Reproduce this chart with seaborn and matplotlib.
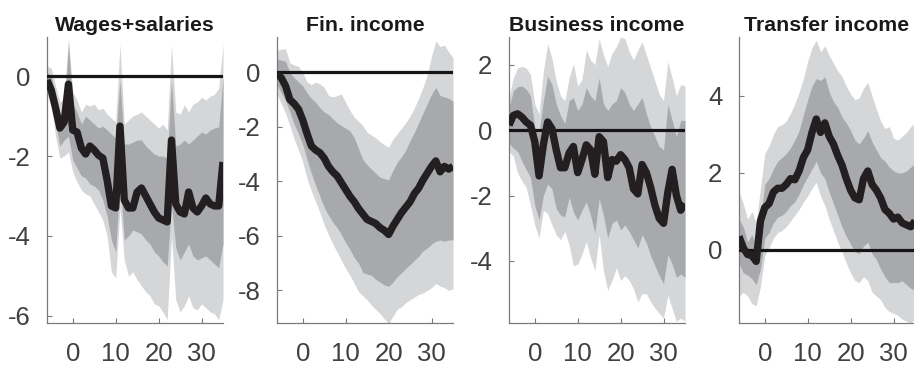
import matplotlib
matplotlib.use("Agg")
import matplotlib.pyplot as plt
import pandas as pd
import seaborn as sns

# Horizon (months relative to the shock)
horizon = list(range(-6, 36))

titles = ["Wages+salaries", "Fin. income", "Business income", "Transfer income"]

# Wages + salaries: point response and 68% / 90% bands
wage_mid = [-0.10, -0.35, -0.80, -1.30, -1.15, -0.20, -1.35, -1.40, -1.80, -1.95, -1.75, -1.85, -1.98, -2.05,
            -2.60, -3.25, -3.30, -1.25, -3.10, -3.30, -3.30, -2.90, -2.80, -3.00, -3.20, -3.40, -3.55, -3.60,
            -3.65, -1.60, -3.20, -3.40, -3.45, -2.90, -3.30, -3.40, -3.25, -3.05, -3.20, -3.25, -3.25, -2.15]
wage_hi90 = [0.25, 0.20, -0.25, -0.65, -0.55, 0.95, -0.40, -0.60, -0.90, -0.70, -0.75, -0.70, -0.85, -0.80,
             -0.95, -1.05, -1.15, 0.80, -1.20, -1.10, -1.00, -0.95, -0.90, -1.00, -1.10, -1.20, -1.30, -1.20,
             -1.35, 0.78, -0.90, -0.95, -0.72, -0.90, -0.70, -0.65, -0.53, -0.60, -0.50, -0.46, -0.30, 0.80]
wage_hi68 = [0.10, 0.00, -0.50, -0.95, -0.80, 0.80, -0.70, -0.90, -1.20, -1.00, -1.10, -1.20, -1.30, -1.25,
             -1.35, -1.45, -1.55, -0.10, -1.70, -1.70, -1.65, -1.60, -1.60, -1.75, -1.85, -1.95, -2.00, -2.00,
             -2.05, -0.10, -1.75, -1.70, -1.60, -1.70, -1.60, -1.50, -1.40, -1.45, -1.35, -1.30, -1.27, 0.00]
wage_lo68 = [-0.30, -0.55, -1.20, -1.75, -1.60, -1.50, -2.10, -2.30, -2.50, -2.55, -2.70, -2.75, -2.85, -3.10,
             -3.50, -4.10, -4.40, -2.60, -4.10, -4.00, -3.85, -3.90, -3.95, -4.10, -4.20, -4.40, -4.50, -4.65,
             -4.75, -3.20, -4.30, -4.60, -4.40, -4.20, -4.50, -4.60, -4.55, -4.50, -4.60, -4.70, -4.80, -4.20]
wage_lo90 = [-0.45, -0.75, -1.50, -2.05, -2.00, -1.90, -2.40, -2.65, -2.85, -2.95, -3.00, -3.20, -3.40, -3.60,
             -4.00, -4.90, -5.05, -3.30, -4.60, -5.00, -4.90, -5.10, -5.25, -5.40, -5.50, -5.70, -5.75, -5.90,
             -6.10, -4.00, -5.60, -5.90, -5.75, -5.50, -5.80, -5.85, -5.70, -5.80, -5.90, -5.95, -6.10, -5.60]

# Financial income
fin_mid = [-0.05, -0.20, -0.50, -1.00, -1.15, -1.35, -1.75, -2.25, -2.70, -2.85, -2.95, -3.15, -3.45, -3.65,
           -3.80, -4.05, -4.30, -4.55, -4.75, -5.00, -5.20, -5.40, -5.47, -5.55, -5.70, -5.80, -5.95, -5.65,
           -5.40, -5.15, -4.95, -4.75, -4.45, -4.25, -3.95, -3.70, -3.45, -3.25, -3.65, -3.45, -3.55, -3.45]
fin_hi90 = [0.80, 0.85, 0.87, 0.35, 0.28, 0.22, 0.00, -0.35, -0.45, -0.36, -0.42, -0.55, -0.85, -0.90,
            -0.85, -0.80, -1.10, -1.40, -1.65, -1.80, -1.95, -2.20, -2.30, -2.40, -2.55, -2.65, -2.75, -2.45,
            -2.25, -2.05, -1.85, -1.60, -1.30, -0.95, -0.55, -0.10, 0.60, 1.15, 0.95, 1.00, 0.75, 0.55]
fin_hi68 = [0.50, 0.45, 0.40, 0.00, -0.20, -0.35, -0.50, -0.75, -0.95, -1.10, -1.30, -1.45, -1.55, -1.70,
            -1.85, -1.95, -2.05, -2.15, -2.40, -2.80, -3.20, -3.40, -3.55, -3.70, -3.85, -3.90, -3.95, -3.60,
            -3.30, -3.10, -2.85, -2.50, -2.20, -1.85, -1.50, -1.15, -0.80, -0.55, -0.85, -0.90, -0.95, -1.05]
fin_lo68 = [-0.45, -0.75, -1.05, -1.45, -1.90, -2.25, -2.65, -3.20, -3.70, -4.15, -4.55, -4.95, -5.25, -5.50,
            -5.70, -5.95, -6.25, -6.50, -6.80, -7.00, -7.35, -7.40, -7.45, -7.60, -7.70, -7.80, -7.85, -7.70,
            -7.50, -7.35, -7.20, -7.05, -6.90, -6.75, -6.55, -6.45, -6.30, -6.20, -6.15, -6.20, -6.15, -6.15]
fin_lo90 = [-0.78, -1.15, -1.50, -1.95, -2.45, -2.85, -3.30, -3.90, -4.35, -4.75, -5.15, -5.60, -5.95, -6.30,
            -6.60, -6.90, -7.20, -7.45, -7.75, -8.05, -8.20, -8.35, -8.55, -8.70, -8.85, -9.05, -9.20, -8.95,
            -8.70, -8.60, -8.45, -8.35, -8.25, -8.15, -8.10, -8.00, -7.90, -7.75, -7.85, -7.90, -8.00, -7.95]

# Business income
bus_mid = [0.15, 0.45, 0.50, 0.40, 0.25, 0.15, -0.35, -1.40, -0.45, 0.25, 0.05, -0.60, -1.15, -1.15,
           -0.70, -0.50, -1.30, -0.90, -0.45, -0.60, -1.35, -0.20, -0.35, -1.45, -0.90, -0.95, -0.75, -0.90,
           -1.15, -1.80, -1.95, -1.05, -1.30, -1.75, -2.30, -2.70, -2.85, -1.90, -1.20, -2.00, -2.45, -2.25]
bus_hi90 = [1.00, 1.60, 1.90, 1.95, 1.90, 1.70, 0.80, 0.50, 1.80, 2.65, 2.20, 1.50, 1.05, 0.90,
            1.60, 2.04, 1.35, 1.55, 2.45, 2.15, 2.00, 2.80, 2.30, 1.95, 2.35, 2.55, 2.85, 2.80,
            2.40, 2.15, 2.45, 2.70, 2.30, 1.90, 1.50, 1.10, 0.90, 2.10, 1.60, 1.05, 1.40, 1.35]
bus_hi68 = [0.70, 1.20, 1.33, 1.35, 1.25, 1.05, 0.10, -0.10, 0.90, 1.65, 1.40, 0.80, 0.45, 0.20,
            0.90, 1.00, 0.60, 0.80, 1.30, 1.05, 0.90, 1.60, 0.80, 0.60, 0.80, 0.90, 1.30, 1.15,
            0.80, 0.60, 0.80, 1.00, 0.50, 0.10, -0.20, -0.50, -0.60, 0.80, 0.30, -0.20, 0.30, 0.30]
bus_lo68 = [-0.40, -0.55, -0.65, -0.95, -1.20, -1.45, -2.30, -2.75, -2.00, -1.65, -1.80, -2.40, -2.60, -2.65,
            -2.05, -2.50, -2.75, -2.45, -2.20, -2.60, -3.15, -2.10, -2.60, -3.30, -2.85, -2.75, -3.05, -2.90,
            -3.10, -3.35, -3.60, -3.20, -3.45, -3.85, -4.15, -4.45, -4.70, -3.80, -4.10, -4.50, -4.40, -4.50]
bus_lo90 = [-0.65, -0.80, -1.30, -1.55, -1.75, -2.30, -2.90, -3.30, -2.45, -2.55, -2.90, -3.20, -3.35, -3.10,
            -3.50, -4.15, -4.10, -3.80, -3.40, -3.90, -4.30, -3.20, -4.30, -4.90, -4.60, -4.20, -4.60, -4.45,
            -4.60, -4.85, -5.25, -5.00, -5.00, -5.25, -5.45, -5.60, -5.75, -5.05, -5.45, -5.85, -5.75, -5.85]

# Transfer income
tr_mid = [0.35, 0.05, -0.12, -0.15, -0.30, 0.75, 1.10, 1.20, 1.50, 1.60, 1.60, 1.70, 1.85, 1.82,
          2.05, 2.40, 2.60, 3.05, 3.40, 3.05, 3.30, 2.95, 2.75, 2.45, 2.20, 1.85, 1.55, 1.35,
          1.30, 1.85, 2.05, 1.70, 1.55, 1.35, 1.05, 0.95, 0.80, 0.85, 0.70, 0.65, 0.60, 0.75]
tr_hi90 = [1.50, 1.20, 0.80, 1.00, 0.70, 1.60, 2.50, 2.70, 3.00, 3.20, 3.25, 3.35, 3.55, 3.80,
           4.10, 4.45, 4.90, 5.25, 5.45, 5.15, 5.30, 5.05, 4.85, 4.65, 4.50, 4.25, 4.05, 3.90,
           3.95, 4.20, 4.35, 4.00, 3.65, 3.35, 3.15, 3.20, 2.90, 2.85, 2.95, 3.05, 3.20, 3.30]
tr_hi68 = [0.80, 0.60, 0.20, 0.40, 0.10, 0.80, 1.70, 1.85, 2.10, 2.30, 2.40, 2.50, 2.65, 2.85,
           3.10, 3.50, 3.90, 4.25, 4.45, 4.40, 4.50, 4.10, 3.85, 3.70, 3.45, 3.30, 3.10, 2.85,
           2.75, 2.90, 3.10, 2.80, 2.60, 2.40, 2.30, 2.15, 2.05, 2.00, 2.00, 2.05, 2.15, 2.25]
tr_lo68 = [-0.35, -0.60, -0.65, -0.75, -0.90, -0.50, 0.30, 0.45, 0.70, 0.85, 0.90, 1.00, 1.15, 1.25,
           1.45, 1.70, 1.90, 2.10, 2.30, 2.00, 1.85, 1.50, 1.20, 0.90, 0.60, 0.35, 0.15, -0.05,
           -0.10, 0.10, 0.20, -0.10, -0.25, -0.50, -0.70, -0.85, -0.85, -0.85, -0.80, -0.90, -1.00, -1.05]
tr_lo90 = [-1.20, -1.10, -1.20, -1.40, -1.45, -0.95, -0.15, 0.05, 0.30, 0.45, 0.50, 0.60, 0.75, 0.90,
           1.05, 1.25, 1.40, 1.60, 1.75, 1.40, 1.15, 0.80, 0.50, 0.20, -0.05, -0.35, -0.60, -0.80,
           -0.85, -0.70, -0.80, -1.10, -1.20, -1.30, -1.50, -1.60, -1.65, -1.70, -1.80, -1.85, -1.90, -1.80]

panels = [
    (wage_mid, wage_lo90, wage_hi90, wage_lo68, wage_hi68, (-6.18, 0.98), [-6, -4, -2, 0]),
    (fin_mid, fin_lo90, fin_hi90, fin_lo68, fin_hi68, (-9.2, 1.3), [-8, -6, -4, -2, 0]),
    (bus_mid, bus_lo90, bus_hi90, bus_lo68, bus_hi68, (-5.9, 2.85), [-4, -2, 0, 2]),
    (tr_mid, tr_lo90, tr_hi90, tr_lo68, tr_hi68, (-1.9, 5.53), [0, 2, 4]),
]

LIGHT = "#d5d6d8"
DARK = "#a8a9ac"
LINE = "#231f20"
AXIS = "#7a7a7a"
TEXT = "#404040"

sns.set_style("ticks")
plt.rcParams["font.family"] = ["Liberation Sans", "DejaVu Sans"]
plt.rcParams["axes.unicode_minus"] = False

W, H = 914, 367
fig = plt.figure(figsize=(W / 100, H / 100), dpi=100)
lefts = [47, 277, 509, 739]

for left, title, (mid, lo90, hi90, lo68, hi68, ylim, yticks) in zip(lefts, titles, panels):
    ax = fig.add_axes([left / W, 44 / H, 176 / W, 286 / H])
    ax.fill_between(horizon, lo90, hi90, color=LIGHT, lw=0, zorder=1)
    ax.fill_between(horizon, lo68, hi68, color=DARK, lw=0, zorder=2)
    ax.axhline(0, color="#151515", lw=2.3, zorder=3)
    df = pd.DataFrame({"horizon": horizon, "response": mid})
    sns.lineplot(data=df, x="horizon", y="response", ax=ax, color=LINE, lw=5.3,
                 zorder=4, solid_joinstyle="round", solid_capstyle="butt")
    ax.set_xlim(-6, 35)
    ax.set_ylim(*ylim)
    ax.set_xticks([0, 10, 20, 30])
    ax.set_yticks(yticks)
    ax.set_xlabel("")
    ax.set_ylabel("")
    for side in ("top", "right"):
        ax.spines[side].set_visible(False)
    for side in ("left", "bottom"):
        ax.spines[side].set_color(AXIS)
        ax.spines[side].set_linewidth(0.9)
    ax.tick_params(axis="both", direction="in", length=3.5, width=0.8, color=AXIS,
                   labelsize=18.5, labelcolor=TEXT)
    ax.tick_params(axis="x", pad=14)
    ax.tick_params(axis="y", pad=12)
    ax.set_title(title, fontsize=15.3, fontweight="bold", color="#1a1a1a", pad=4)

fig.savefig("out.png", dpi=100, facecolor="white")
